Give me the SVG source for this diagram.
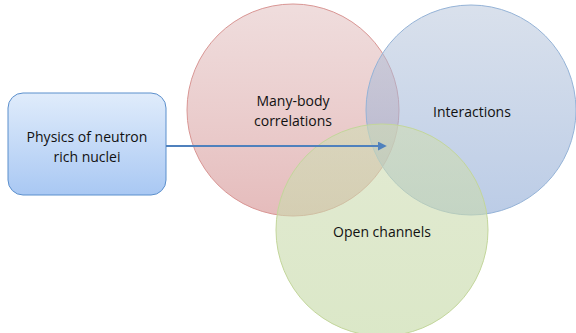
<svg xmlns="http://www.w3.org/2000/svg" width="576" height="333" viewBox="0 0 576 333">
  <defs>
    <linearGradient id="gBox" x1="0" y1="0" x2="0" y2="1">
      <stop offset="0" stop-color="#e0ecfb"/>
      <stop offset="1" stop-color="#a9c8f3"/>
    </linearGradient>
    <linearGradient id="gRed" x1="0" y1="0" x2="0" y2="1">
      <stop offset="0" stop-color="#dcb3b3" stop-opacity="0.45"/>
      <stop offset="1" stop-color="#d48f8f" stop-opacity="0.6"/>
    </linearGradient>
    <linearGradient id="gBlue" x1="0" y1="0" x2="0" y2="1">
      <stop offset="0" stop-color="#b3c2d9" stop-opacity="0.5"/>
      <stop offset="1" stop-color="#8eaad6" stop-opacity="0.6"/>
    </linearGradient>
    <linearGradient id="gGreen" x1="0" y1="0" x2="0" y2="1">
      <stop offset="0" stop-color="#cfdcb4" stop-opacity="0.6"/>
      <stop offset="1" stop-color="#c3d8a3" stop-opacity="0.6"/>
    </linearGradient>
    <marker id="arrow" viewBox="0 0 10 10" refX="8" refY="5" markerWidth="4.5" markerHeight="4.5" orient="auto">
      <path d="M0,0 L10,5 L0,10 Z" fill="#4f81bd"/>
    </marker>
  </defs>
  <style>
    text { font-family: "Open Sans", "Liberation Sans", sans-serif; font-size: 14px; fill: #111; text-anchor: middle; }
    .circle { stroke-width: 1; }
  </style>
  <rect width="576" height="333" fill="#ffffff"/>

  <g id="many-body">
    <circle class="circle" cx="293" cy="110" r="106" fill="url(#gRed)" stroke="#d99694"/>
  </g>
  <g id="interactions">
    <circle class="circle" cx="471" cy="110" r="105" fill="url(#gBlue)" stroke="#95b3d7"/>
  </g>
  <g id="open-channels">
    <circle class="circle" cx="382" cy="230" r="106" fill="url(#gGreen)" stroke="#c3d69b"/>
  </g>

  <g id="physics">
    <rect x="8" y="93" width="158" height="102" rx="15" ry="15" fill="url(#gBox)" stroke="#5b8fcc" stroke-width="1"/>
    <text x="87" y="142">Physics of neutron</text>
    <text x="87" y="162">rich nuclei</text>
  </g>

  <g id="labels">
    <text x="293" y="106">Many-body</text>
    <text x="293" y="126">correlations</text>
    <text x="472" y="117">Interactions</text>
    <text x="382" y="237">Open channels</text>
  </g>

  <g id="connectors">
    <line x1="166" y1="146" x2="385" y2="146" stroke="#4f81bd" stroke-width="2" marker-end="url(#arrow)"/>
  </g>
</svg>
